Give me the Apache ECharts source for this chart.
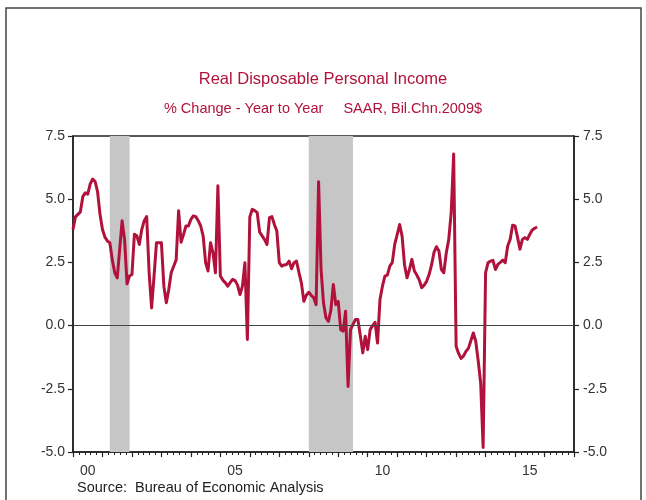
<!DOCTYPE html>
<html>
<head>
<meta charset="utf-8">
<script src="https://cdn.jsdelivr.net/npm/echarts@6/dist/echarts.min.js"></script>
<style>
html,body{margin:0;padding:0;background:#fff;}
#chart{width:646px;height:500px;}
</style>
</head>
<body>
<div id="chart"></div>
<script>
// ---- Text ----
const chartTitle = 'Real Disposable Personal Income';
const chartSubtitle = '% Change - Year to Year     SAAR, Bil.Chn.2009$';
const sourceNote = 'Source:  Bureau of Economic Analysis';

// ---- Axes ----
const yMin = -5, yMax = 7.5, yStep = 2.5;
const xStart = 2000, xEnd = 2017;
const labelYears = [2000, 2005, 2010, 2015];

// ---- Recessions (shaded) ----
const recessionStart = [2001.25, 2008.0];
const recessionEnd = [2001.92, 2009.5];

// ---- Monthly % change, year to year (Jan 2000 ... Oct 2015) ----
const v2000 = [3.8, 4.3, 4.4, 4.5, 5.1, 5.25, 5.2, 5.6, 5.8, 5.7, 5.3, 4.4];
const v2001 = [3.8, 3.5, 3.35, 3.28, 2.6, 2.09, 1.89, 3.0, 4.15, 3.4, 1.65, 1.96];
const v2002 = [2.02, 3.61, 3.55, 3.21, 3.8, 4.15, 4.31, 2.09, 0.7, 1.96, 3.28, 3.28];
const v2003 = [3.28, 1.56, 0.9, 1.43, 2.1, 2.35, 2.6, 4.54, 3.3, 3.6, 3.94, 3.94];
const v2004 = [4.2, 4.34, 4.31, 4.15, 3.94, 3.54, 2.49, 2.16, 3.28, 2.88, 2.09, 5.53];
const v2005 = [1.96, 1.8, 1.7, 1.56, 1.7, 1.83, 1.78, 1.6, 1.23, 1.56, 2.49, -0.55];
const v2006 = [4.3, 4.6, 4.55, 4.47, 3.7, 3.55, 3.4, 3.21, 4.27, 4.31, 4.0, 3.74];
const v2007 = [2.49, 2.35, 2.4, 2.42, 2.55, 2.25, 2.49, 2.55, 2.1, 1.69, 0.96, 1.2];
const v2008 = [1.32, 1.2, 1.1, 0.83, 5.69, 2.22, 0.9, 0.31, 0.17, 0.6, 1.63, 0.83];
const v2009 = [0.96, -0.16, -0.22, 0.57, -2.41, -0.16, 0.05, 0.24, 0.24, -0.4, -1.08, -0.42];
const v2010 = [-0.95, -0.16, 0.0, 0.13, -0.69, 1.03, 1.56, 1.96, 2.0, 2.35, 2.49, 3.21];
const v2011 = [3.6, 4.0, 3.54, 2.4, 1.89, 2.22, 2.62, 2.16, 2.0, 1.8, 1.5, 1.6];
const v2012 = [1.75, 2.02, 2.4, 2.9, 3.12, 2.95, 2.22, 2.09, 2.88, 3.41, 4.47, 6.79];
const v2013 = [-0.82, -1.1, -1.3, -1.2, -1.02, -0.9, -0.6, -0.29, -0.62, -1.4, -2.27, -4.82];
const v2014 = [2.09, 2.49, 2.55, 2.58, 2.22, 2.42, 2.5, 2.59, 2.49, 3.15, 3.41, 3.97];
const v2015 = [3.94, 3.5, 3.02, 3.41, 3.48, 3.41, 3.61, 3.78, 3.85, 3.9];

const yearly = [v2000, v2001, v2002, v2003, v2004, v2005, v2006, v2007,
                v2008, v2009, v2010, v2011, v2012, v2013, v2014, v2015];

const lineData = [];
yearly.forEach((arr, yi) => {
  arr.forEach((v, mi) => {
    lineData.push([xStart + yi + mi / 12, v]);
  });
});

const majorTicks = [];
for (let y = xStart; y <= xEnd; y++) majorTicks.push(y);
const minorTicks = [];
for (let y = xStart; y < xEnd; y++) {
  for (let k = 1; k < 5; k++) minorTicks.push(y + k / 5);
}
const labelPositions = labelYears.map(y => y + 0.5);

const ink = '#222';
const red = '#b1123c';
const font = 'Liberation Sans, Arial, sans-serif';

const chart = echarts.init(document.getElementById('chart'), null, {renderer: 'canvas'});

const yAxisBase = {
  type: 'value', min: yMin, max: yMax, interval: yStep,
  axisLine: {show: true, lineStyle: {color: ink, width: 1.5}},
  axisTick: {show: true, inside: false, length: 5, lineStyle: {color: ink, width: 1.2}},
  axisLabel: {color: '#333', fontSize: 14, fontFamily: font,
              formatter: v => v.toFixed(1)},
  splitLine: {show: false}
};

chart.setOption({
  animation: false,
  backgroundColor: '#fff',
  title: [
    {text: chartTitle, left: 'center', top: 66,
     textStyle: {color: red, fontSize: 16.5, fontWeight: 'normal', fontFamily: font}},
    {text: chartSubtitle, left: 'center', top: 96,
     textStyle: {color: red, fontSize: 14.5, fontWeight: 'normal', fontFamily: font}}
  ],
  graphic: [
    {type: 'rect', shape: {x: 6, y: 8, width: 635, height: 520},
     style: {fill: 'none', stroke: '#444', lineWidth: 1.5}, silent: true},
    {type: 'text', left: 77, top: 480,
     style: {text: sourceNote, fill: ink, fontSize: 14.5, fontFamily: font}}
  ],
  grid: {left: 73, right: 72, top: 136, bottom: 48, show: true,
         borderColor: ink, borderWidth: 1.5, backgroundColor: 'transparent'},
  xAxis: [
    {
      type: 'value', min: xStart, max: xEnd, position: 'bottom',
      axisLine: {show: true, onZero: false, lineStyle: {color: ink, width: 1.5}},
      axisTick: {show: true, inside: false, length: 5, customValues: majorTicks,
                 lineStyle: {color: ink, width: 1.2}},
      axisLabel: {show: true, customValues: labelPositions, margin: 12,
                  color: '#333', fontSize: 14, fontFamily: font,
                  formatter: v => String(Math.floor(v) % 100).padStart(2, '0')},
      splitLine: {show: false}
    },
    {
      type: 'value', min: xStart, max: xEnd, position: 'bottom',
      axisLine: {show: false, onZero: false},
      axisTick: {show: true, inside: false, length: 3, customValues: minorTicks,
                 lineStyle: {color: ink, width: 1}},
      axisLabel: {show: false},
      splitLine: {show: false}
    }
  ],
  yAxis: [
    Object.assign({}, yAxisBase, {position: 'left', axisLabel: Object.assign({}, yAxisBase.axisLabel, {margin: 8})}),
    Object.assign({}, yAxisBase, {position: 'right', axisLabel: Object.assign({}, yAxisBase.axisLabel, {margin: 9})})
  ],
  series: [
    {
      type: 'line', data: [], z: 1, silent: true,
      markArea: {
        silent: true,
        itemStyle: {color: '#c6c6c6', opacity: 1},
        data: recessionStart.map((s, i) => [{xAxis: s}, {xAxis: recessionEnd[i]}])
      }
    },
    {
      type: 'line', data: [], z: 2, silent: true,
      markLine: {
        silent: true, symbol: 'none', label: {show: false},
        lineStyle: {color: '#444', width: 1, type: 'solid'},
        data: [{yAxis: 0}]
      }
    },
    {
      type: 'line', data: lineData, z: 3,
      showSymbol: false, symbol: 'none',
      lineStyle: {color: red, width: 3, join: 'round'},
      itemStyle: {color: red}
    }
  ]
});
</script>
</body>
</html>
